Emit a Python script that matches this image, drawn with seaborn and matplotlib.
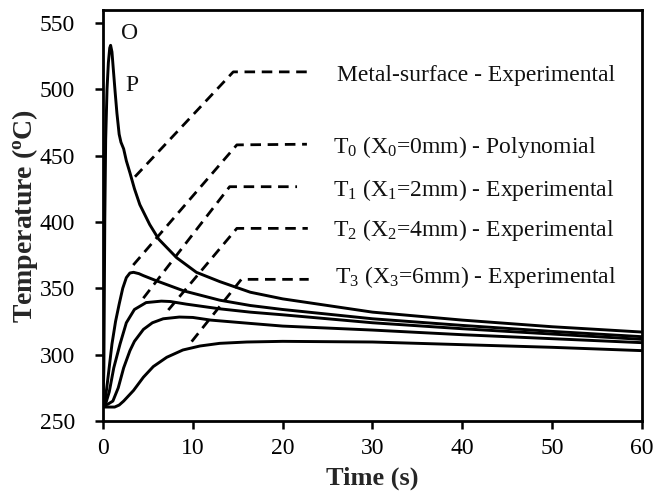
import matplotlib
matplotlib.use("Agg")
import matplotlib.pyplot as plt
import seaborn as sns
import pandas as pd

# ---- data ----
metal_t = [0.0, 0.1, 0.2, 0.3, 0.45, 0.6, 0.75, 0.85, 1.0, 1.15, 1.35, 1.55, 1.8, 2.0, 2.3, 2.6, 3.0, 3.5, 4.1, 5.2, 6.2, 8.2, 10.4, 13.0, 16.4, 20, 25, 30, 40, 50, 60]
metal_T = [262, 290, 400, 462, 500, 520, 531, 533, 528, 515, 498, 482, 466, 460, 455, 446, 437, 425, 413, 398, 387, 373, 362, 355, 347, 342, 337, 332, 326, 321, 317]

t0_t = [0.0, 0.2, 0.6, 1.0, 1.4, 1.8, 2.2, 2.6, 3.0, 3.4, 4.0, 4.5, 6.0, 9.0, 13.0, 16.4, 20, 30, 40, 50, 60]
t0_T = [262, 263, 285, 308, 325, 338, 350, 358, 361.5, 362, 361, 359.5, 355.5, 348, 341, 337, 334, 327, 322, 317.5, 313.5]

t1_t = [0.0, 0.3, 0.7, 1.2, 1.9, 2.6, 3.5, 4.8, 6.5, 7.5, 9.3, 13.0, 16.4, 20, 30, 40, 50, 60]
t1_T = [262, 263, 272, 290, 308, 324, 334, 339.2, 340.3, 340, 338, 334.5, 332, 330, 324, 319.5, 315.5, 311.5]

t2_t = [0.0, 0.5, 1.1, 1.7, 2.3, 3.0, 3.5, 4.5, 5.5, 6.7, 8.5, 10.0, 12.0, 16.4, 20, 30, 40, 50, 60]
t2_T = [262, 262.5, 265, 275, 290, 303, 310, 319, 324, 327, 328.3, 328, 326, 323.5, 321.5, 318.5, 315, 312, 309]

t3_t = [0.0, 0.5, 1.3, 1.8, 2.3, 3.4, 4.5, 5.6, 7.1, 8.9, 10.8, 13.0, 16.0, 20, 30, 40, 50, 60]
t3_T = [260.5, 260.5, 260.5, 262, 265, 273, 283, 291, 298, 303.5, 306.5, 308.5, 309.5, 310, 309.5, 307.5, 305.5, 303]

series_names = ["Metal-surface", "T0", "T1", "T2", "T3"]

label_texts = [
    "Metal-surface - Experimental",
    r"T$_\mathrm{0}$ (X$_\mathrm{0}$=0mm) - Polynomial",
    r"T$_\mathrm{1}$ (X$_\mathrm{1}$=2mm) - Experimental",
    r"T$_\mathrm{2}$ (X$_\mathrm{2}$=4mm) - Experimental",
    r"T$_\mathrm{3}$ (X$_\mathrm{3}$=6mm) - Experimental",
]
label_x = [26.05, 25.6, 25.6, 25.6, 25.8]
label_y = [510.5, 456.5, 424, 394, 358.7]

leader_t = [[3.56, 14.5, 22.7], [3.37, 14.9, 22.7], [4.49, 14.1, 21.6], [7.27, 14.9, 22.8], [9.87, 15.4, 22.9]]
leader_T = [[434, 513, 513], [367.5, 458, 458.5], [342.5, 426.5, 426.5], [333.6, 395.1, 395.1], [309.8, 356.7, 356.7]]

point_labels = ["O", "P"]
point_x = [3.0, 3.2]
point_y = [542, 503]

x_ticks = [0, 10, 20, 30, 40, 50, 60]
y_ticks = [250, 300, 350, 400, 450, 500, 550]

# ---- style ----
sns.set_theme(style="ticks")
plt.rcParams["font.family"] = ["Liberation Serif", "DejaVu Serif"]
plt.rcParams["mathtext.fontset"] = "custom"
plt.rcParams["mathtext.rm"] = "Liberation Serif"
plt.rcParams["mathtext.it"] = "Liberation Serif:italic"
plt.rcParams["mathtext.bf"] = "Liberation Serif:bold"

fig = plt.figure(figsize=(6.67, 5.01), dpi=100)
ax = fig.add_axes([0.1544, 0.1597, 0.9625 - 0.1544, 0.98 - 0.1597])

frames = []
for name, tt, TT in zip(series_names, [metal_t, t0_t, t1_t, t2_t, t3_t], [metal_T, t0_T, t1_T, t2_T, t3_T]):
    frames.append(pd.DataFrame({"time": tt, "temp": TT, "series": name}))
df = pd.concat(frames, ignore_index=True)

for name in series_names:
    sub = df[df["series"] == name]
    sns.lineplot(data=sub, x="time", y="temp", ax=ax, color="black", lw=2.1,
                 sort=False, estimator=None, legend=False)

for lt, lT in zip(leader_t, leader_T):
    ax.plot(lt, lT, color="black", lw=2.0, linestyle=(0, (3.8, 2.4)))

for txt, x, y in zip(label_texts, label_x, label_y):
    ax.text(x, y, txt, fontsize=17, ha="left", va="center", color="#111111")

for txt, x, y in zip(point_labels, point_x, point_y):
    ax.text(x, y, txt, fontsize=17, ha="center", va="center", color="#111111")

ax.set_xlim(0, 60)
ax.set_ylim(250, 559.6)
ax.set_xticks(x_ticks)
ax.set_yticks(y_ticks)
ax.tick_params(axis="both", direction="out", length=6, width=1.8, labelsize=17, colors="black")
ax.tick_params(axis="x", pad=6)
ax.tick_params(axis="y", pad=14)
for s in ax.spines.values():
    s.set_linewidth(2.0)
    s.set_color("black")
    s.set_visible(True)

ax.set_xlabel("Time (s)", fontsize=19, fontweight="bold", labelpad=6)
ax.set_ylabel(r"Temperature ($^\mathbf{o}$C)", fontsize=20, fontweight="bold", labelpad=0)

fig.savefig("out.png", dpi=100)
